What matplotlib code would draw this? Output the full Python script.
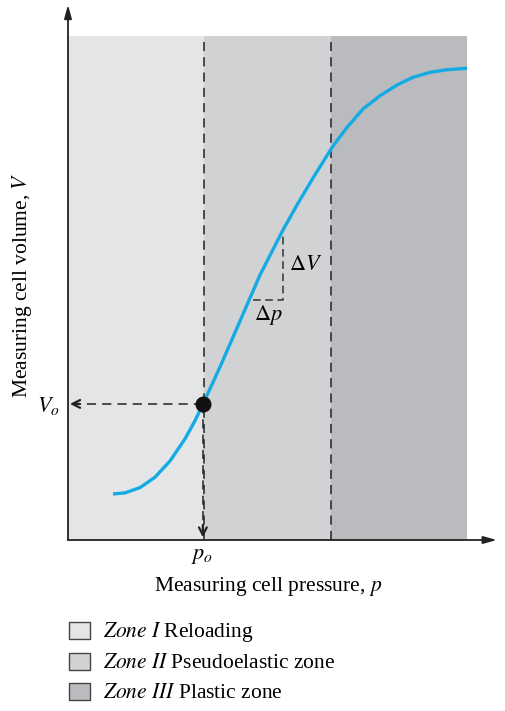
import matplotlib
matplotlib.use("Agg")
import matplotlib.pyplot as plt
from matplotlib.patches import Rectangle

plt.rcParams['font.family'] = ['Liberation Serif', 'DejaVu Serif']
plt.rcParams['mathtext.fontset'] = 'stix'

# data (p: 0..100, V: 0..100)
zone_edges = [0, 34, 66, 100]
zone_colors = ['#e4e5e7', '#d1d2d4', '#babbbf']
zone_names = [('Zone I', 'Reloading'), ('Zone II', 'Pseudoelastic zone'), ('Zone III', 'Plastic zone')]
curve_p = [11.28, 14.29, 18.05, 21.80, 25.56, 29.32, 31.83, 33.83, 38.10, 43.11, 48.12, 53.88,
           57.39, 61.40, 66.17, 69.92, 73.93, 78.20, 82.46, 86.47, 90.73, 94.99, 100.0]
curve_V = [9.13, 9.35, 10.40, 12.46, 15.67, 20.06, 23.67, 26.98, 34.33, 43.45, 52.58, 61.51,
           66.47, 71.83, 77.88, 81.87, 85.52, 88.15, 90.28, 91.81, 92.80, 93.31, 93.59]
p0, V0 = 33.8, 27.0
tri_p = [46.4, 54.0]
tri_V = [47.6, 61.5]

W, H = 505, 711
fig = plt.figure(figsize=(W/100, H/100), dpi=100)
ax = fig.add_axes([68/W, (H-540)/H, 399/W, 504/H])
ax.set_xlim(0, 100)
ax.set_ylim(0, 100)
ax.axis('off')

for i in range(3):
    ax.add_patch(Rectangle((zone_edges[i], 0), zone_edges[i+1]-zone_edges[i], 100,
                           facecolor=zone_colors[i], edgecolor='none', zorder=0))
for e in zone_edges[1:3]:
    ax.plot([e, e], [0, 100], color='#222222', lw=1.1, ls=(0, (6, 4)), zorder=1)

ax.plot(curve_p, curve_V, color='#14abe4', lw=2.4, solid_joinstyle='round',
        solid_capstyle='butt', zorder=3)

# axes arrows
arrow_axis = dict(arrowstyle='-|>,head_length=0.8,head_width=0.22', color='#222222', lw=1.3,
                  shrinkA=0, shrinkB=0)
ax.annotate('', xy=(0, 106.2), xytext=(0, 0), annotation_clip=False, arrowprops=arrow_axis)
ax.annotate('', xy=(107.5, 0), xytext=(0, 0), annotation_clip=False, arrowprops=arrow_axis)

# Vo and po dashed lines with chevron heads
dash = (0, (6, 4))
ax.plot([p0, 0.8], [V0, V0], color='#222222', lw=1.1, ls=dash, zorder=2)
ax.plot([p0, p0], [V0, 0.6], color='#222222', lw=1.1, ls=dash, zorder=2)
head = dict(arrowstyle='->,head_length=0.55,head_width=0.28', color='#222222', lw=1.6,
            shrinkA=0, shrinkB=0)
ax.annotate('', xy=(0.5, V0), xytext=(3.0, V0), arrowprops=head)
ax.annotate('', xy=(p0, 0.5), xytext=(p0, 3.0), arrowprops=head)
ax.plot([p0], [V0], 'o', color='#111111', ms=10.5, zorder=5)

# triangle
ax.plot([tri_p[0], tri_p[1], tri_p[1]], [tri_V[0], tri_V[0], tri_V[1]],
        color='#333333', lw=1.1, ls=(0, (5, 3)), zorder=2)
ax.text(tri_p[1] + 1.5, (tri_V[0] + tri_V[1]) / 2, r'$\Delta V$', fontsize=16, va='center', ha='left')
ax.text(tri_p[0] + 0.2, tri_V[0] - 0.5, r'$\Delta p$', fontsize=16, va='top', ha='left')

fig.text(48/W, 1 - 406/H, r'$V_o$', fontsize=16, ha='center', va='center')
fig.text(202/W, 1 - 557/H, r'$p_o$', fontsize=16, ha='center', va='center')
fig.text(268/W, 1 - 587/H, r'Measuring cell pressure, $p$', fontsize=15.5, ha='center', va='center')
fig.text(22/W, 1 - 285/H, r'Measuring cell volume, $V$', fontsize=15.5, ha='center', va='center', rotation=90)

# legend
legend_y = [630, 661, 691]
for (zn, desc), col, y in zip(zone_names, zone_colors, legend_y):
    fig.patches.append(Rectangle((69/W, 1 - (y + 8.5)/H), 21/W, 17/H, transform=fig.transFigure,
                                 facecolor=col, edgecolor='#444444', lw=1.0))
    fig.text(103/W, 1 - (y + 2)/H, r'$\mathit{' + zn.replace(' ', r'\ ') + r'}$ ' + desc, fontsize=15.5,
             ha='left', va='center')

fig.savefig('out.png', dpi=100)
